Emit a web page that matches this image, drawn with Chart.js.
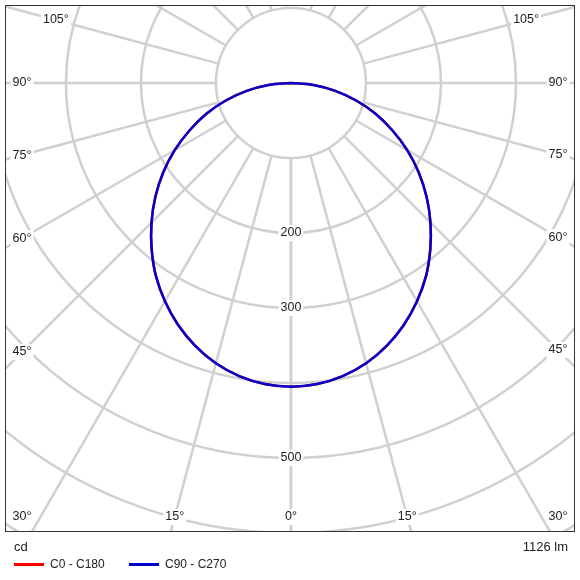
<!DOCTYPE html>
<html><head><meta charset="utf-8">
<script src="https://cdn.jsdelivr.net/npm/chart.js@4"></script>
<style>
body{margin:0;background:#fff;font-family:"Liberation Sans",Arial,sans-serif;}
#wrap{position:relative;width:580px;height:580px;}
.t{position:absolute;font-size:13px;color:#222;}
.leg{position:absolute;font-size:12px;color:#222;display:flex;align-items:center;}
.leg span{display:inline-block;width:30px;height:3px;margin-right:6px;}
</style></head><body>
<div id="wrap">
<canvas id="c" width="580" height="580"></canvas>
<div class="t" style="left:14px;top:539px;">cd</div>
<div class="t" style="right:12px;top:539px;">1126 lm</div>
<div class="leg" style="left:14px;top:557px;"><span style="background:#ff0000"></span>C0 - C180</div>
<div class="leg" style="left:129px;top:557px;"><span style="background:#0000cc"></span>C90 - C270</div>
</div>
<script>
const gammaAngles=[0,5,10,15,20,25,30,35,40,45,50,55,60,65,70,75,80,85,90];
const c0c180=[405,403,397,387,373,356,336,314,289,263,236,208,179,149,120,90,60,30,0];
const c90c270=[405,403,397,387,373,356,336,314,289,263,236,208,179,149,120,90,60,30,0];
const circleValues=[100,200,300,400,500,600,700,800];
const radialLabels=[200,300,500];
const rayAngles=[];for(let a=0;a<180;a+=15)rayAngles.push(a);
const angleLabels=[0,15,30,45,60,75,90,105];

function curve(vals){
  const pts=[];
  for(let i=gammaAngles.length-1;i>=0;i--){const t=gammaAngles[i]*Math.PI/180;pts.push({x:-vals[i]*Math.sin(t),y:-vals[i]*Math.cos(t)});}
  for(let i=1;i<gammaAngles.length;i++){const t=gammaAngles[i]*Math.PI/180;pts.push({x:vals[i]*Math.sin(t),y:-vals[i]*Math.cos(t)});}
  return pts;
}
const gridPlugin={id:'polarGrid',
 beforeDatasetsDraw(ch){
  const {ctx,chartArea:a,scales:{x,y}}=ch;
  const cx=x.getPixelForValue(0),cy=y.getPixelForValue(0);
  const k=x.getPixelForValue(100)-cx;
  ctx.save();ctx.beginPath();ctx.rect(a.left,a.top,a.right-a.left,a.bottom-a.top);ctx.clip();
  ctx.strokeStyle='#d0d0d0';ctx.lineWidth=2.5;
  const r0=k;const R=2000;
  rayAngles.forEach(g=>{[1,-1].forEach(s=>{const t=g*Math.PI/180;const dx=s*Math.sin(t),dy=Math.cos(t);
    ctx.beginPath();ctx.moveTo(cx+dx*r0,cy+dy*r0);ctx.lineTo(cx+dx*R,cy+dy*R);ctx.stroke();});});
  circleValues.forEach(v=>{ctx.beginPath();ctx.arc(cx,cy,v/100*k,0,2*Math.PI);ctx.stroke();});
  ctx.font='12.5px "Liberation Sans", Arial, sans-serif';ctx.textAlign='center';ctx.textBaseline='middle';
  const lab=(txt,px,py)=>{const w=ctx.measureText(txt).width+4;ctx.fillStyle='#fff';ctx.fillRect(px-w/2,py-8,w,16);ctx.fillStyle='#222';ctx.fillText(txt,px,py);};
  radialLabels.forEach(v=>lab(String(v),cx,y.getPixelForValue(-v)));
  const L=a.left+17,Rr=a.right-17,T=a.top+15,B=a.bottom-15;
  angleLabels.forEach(g=>{[1,-1].forEach(s=>{if(g===0&&s<0)return;const t=g*Math.PI/180;const dx=s*Math.sin(t),dy=Math.cos(t);
    let best=1e9;
    if(Math.abs(dx)>1e-6){const tt=((dx>0?Rr:L)-cx)/dx;if(tt>0)best=Math.min(best,tt);}
    if(Math.abs(dy)>1e-6){const tt=((dy>0?B:T)-cy)/dy;if(tt>0)best=Math.min(best,tt);}
    let px=cx+dx*best,py=cy+dy*best;
    if(py>=B-0.5 && g>=30){px=s>0?Rr:L;}
    lab(g+'°',px,py);});});
  ctx.restore();
 },
 afterDraw(ch){const {ctx,chartArea:a}=ch;ctx.save();ctx.strokeStyle='#333';ctx.lineWidth=1;ctx.strokeRect(a.left+0.5,a.top+0.5,a.right-a.left-1,a.bottom-a.top-1);ctx.restore();}
};
new Chart(document.getElementById('c'),{type:'scatter',
 data:{datasets:[
  {label:'C0 - C180',data:curve(c0c180),showLine:true,pointRadius:0,borderColor:'#ff0000',borderWidth:2.5,tension:0.4,order:2},
  {label:'C90 - C270',data:curve(c90c270),showLine:true,pointRadius:0,borderColor:'#0000cc',borderWidth:2.5,tension:0.4,order:1}]},
 options:{responsive:false,animation:false,
  layout:{padding:{left:5,right:5,top:5,bottom:48}},
  plugins:{legend:{display:false},tooltip:{enabled:false}},
  scales:{x:{type:'linear',min:-381.3,max:378.7,display:false},y:{type:'linear',min:-598.7,max:104,display:false}}},
 plugins:[gridPlugin]});
</script></body></html>
